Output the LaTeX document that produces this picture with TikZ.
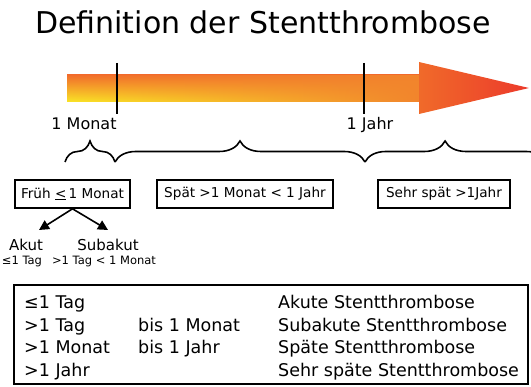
\documentclass[tikz,border=0pt]{standalone}
\usepackage{fontspec}
\setmainfont{DejaVu Sans}
\usetikzlibrary{decorations.pathreplacing,fadings,arrows.meta}

\definecolor{shafttop}{HTML}{F26D2B}
\definecolor{shaftbot}{HTML}{FAE626}
\definecolor{shaftend}{HTML}{F2852D}
\definecolor{headleft}{HTML}{F06A2A}
\definecolor{headright}{HTML}{EC3A2B}

\tikzfading[name=fadeshaft, left color=transparent!100, right color=transparent!0]

\tikzset{
  phasebox/.style={draw, line width=1.6pt, inner sep=0pt, minimum height=28pt,
    font=\fontsize{13.6}{16}\selectfont},
  ticklabel/.style={anchor=base, font=\fontsize{16}{19}\selectfont},
  sublabel/.style={anchor=base, font=\fontsize{15}{18}\selectfont},
  smalllabel/.style={anchor=base, font=\fontsize{11.5}{14}\selectfont},
  rowtext/.style={anchor=base west, inner sep=0pt, font=\fontsize{17.5}{21}\selectfont},
  timebrace/.style={decorate, decoration={brace, amplitude=21pt}, line width=1.6pt}
}

\begin{document}
\begin{tikzpicture}[x=1pt,y=-1pt]
\useasboundingbox (0,0) rectangle (531,387);

% Title
\node[anchor=base] (title) at (263,34) {\fontsize{30}{36}\selectfont Definition der Stentthrombose};

% Time arrow (shaft and head)
\shade[top color=shafttop, bottom color=shaftbot] (67,75) rectangle (419,102);
\fill[shaftend, path fading=fadeshaft] (67,75) rectangle (419,102);
\shade[left color=headleft, right color=headright] (419,62) -- (529,88) -- (419,114) -- cycle;

% Ticks
\draw[line width=1.8pt] (117,63) coordinate (monattop) -- (117,114) coordinate (monatbot);
\draw[line width=1.8pt] (364,63) coordinate (jahrtop) -- (364,114) coordinate (jahrbot);
\node[ticklabel] (monat) at (84,130) {1 Monat};
\node[ticklabel] (jahr) at (370,130) {1 Jahr};

% Braces
\draw[timebrace] (65,162) -- (115,162);
\draw[timebrace] (115,162) -- (365,162);
\draw[timebrace, decoration={aspect=0.44}] (365,162) -- (547,162);

% Phase boxes
\node[phasebox, minimum width=115pt] (frueh) at (72.5,194) {Früh \underline{<}\,1 Monat};
\node[phasebox, minimum width=176pt] (spaet) at (245,194) {Spät >1 Monat < 1 Jahr};
\node[phasebox, minimum width=132pt] (sehrspaet) at (444,194) {Sehr spät >1Jahr};

% Subdivision of early phase
\node[sublabel] (akut) at (26,251) {Akut};
\node[sublabel] (subakut) at (108,251) {Subakut};
\node[smalllabel] (akutzeit) at (22,265) {≤1 Tag};
\node[smalllabel] (subakutzeit) at (104,265) {>1 Tag < 1 Monat};
\coordinate (akuttip) at (39,230);
\coordinate (subakuttip) at (108,230);
\draw[line width=1.6pt, -{Triangle[length=10pt,width=10pt]}] (frueh.south) -- (akuttip);
\draw[line width=1.6pt, -{Triangle[length=10pt,width=10pt]}] (frueh.south) -- (subakuttip);

% Summary table
\draw[line width=1.6pt] (14,285) rectangle (528,384);
\node[rowtext] (r1a) at (24,309) {≤1 Tag};
\node[rowtext] (r1c) at (278,309) {Akute Stentthrombose};
\node[rowtext] (r2a) at (24,331.5) {>1 Tag};
\node[rowtext] (r2b) at (138,331.5) {bis 1 Monat};
\node[rowtext] (r2c) at (278,331.5) {Subakute Stentthrombose};
\node[rowtext] (r3a) at (24,354) {>1 Monat};
\node[rowtext] (r3b) at (138,354) {bis 1 Jahr};
\node[rowtext] (r3c) at (278,354) {Späte Stentthrombose};
\node[rowtext] (r4a) at (24,377) {>1 Jahr};
\node[rowtext] (r4c) at (278,377) {Sehr späte Stentthrombose};

\end{tikzpicture}
\end{document}
